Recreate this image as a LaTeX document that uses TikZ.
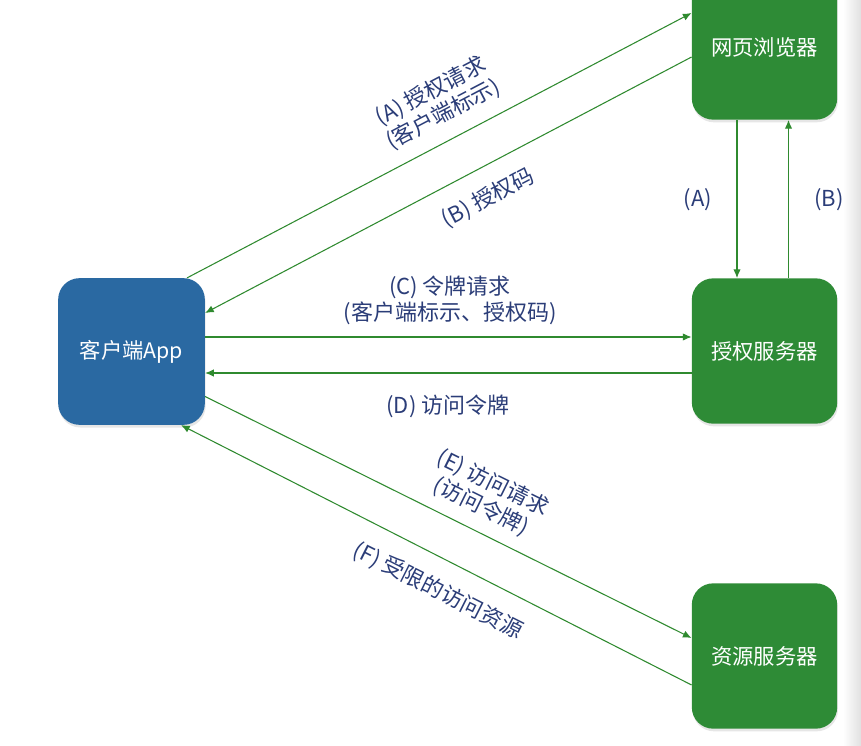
\documentclass[tikz,border=0pt]{standalone}
\usepackage{fontspec}
\setmainfont{Noto Sans CJK SC}
\usetikzlibrary{arrows.meta,calc,shadows}

\definecolor{appblue}{HTML}{2A69A2}
\definecolor{srvgreen}{HTML}{2E8B36}
\definecolor{flowgreen}{HTML}{2F8A2F}
\definecolor{labelblue}{HTML}{2B3D78}

\begin{document}
\begin{tikzpicture}[
    x=0.75pt, y=-0.75pt,
    box/.style={rounded corners=16pt, text=white, align=center, minimum width=109pt, minimum height=109pt,
      font=\fontsize{16pt}{19.5pt}\selectfont, drop shadow={opacity=0.2, shadow xshift=0.6pt, shadow yshift=-2pt}},
    flow/.style={-{Latex[length=6.5pt,width=5.5pt]}, flowgreen, line width=0.8pt},
    lbl/.style={text=labelblue, align=center, font=\fontsize{16.5pt}{19.5pt}\selectfont, inner sep=0pt}
  ]
  \clip (0,0) rectangle (861,746);
  \fill[left color=white, right color=black!12] (843,0) rectangle (861,746);

  % parties
  \node[box, fill=appblue, minimum width=110pt, minimum height=110pt] (client) at (131.5,351.5) {客户端App};
  \node[box, fill=srvgreen] (browser) at (764.5,47) {网页浏览器};
  \node[box, fill=srvgreen] (auth) at (764.5,351) {授权服务器};
  \node[box, fill=srvgreen] (resource) at (764.5,656) {资源服务器};

  % flows
  \draw[flow] ($(client.north)+(55.5,0)$) -- ($(browser.west)+(0,-34)$);
  \draw[flow] ($(browser.west)+(0,10)$) -- ($(client.east)+(0,-38.5)$);
  \draw[flow] ($(browser.south)+(-27.5,0)$) -- ($(auth.north)+(-27.5,0)$);
  \draw[flow] ($(auth.north)+(24,0)$) -- ($(browser.south)+(24,0)$);
  \draw[flow] ($(client.east)+(0,-14.5)$) -- ($(auth.west)+(0,-14)$);
  \draw[flow] ($(auth.west)+(0,22)$) -- ($(client.east)+(0,21.5)$);
  \draw[flow] ($(client.east)+(0,45)$) -- ($(resource.west)+(0,-18)$);
  \draw[flow] ($(resource.west)+(0,29)$) -- ($(client.south)+(49.5,0)$);

  % labels
  \node[lbl, rotate=27.7] (labA) at (437,103) {(A) 授权请求\\(客户端标示)};
  \node[lbl, rotate=27.7] (labB) at (488,198) {(B) 授权码};
  \node[lbl] (labC) at (450,300) {(C) 令牌请求\\(客户端标示、授权码)};
  \node[lbl] (labD) at (448,406) {(D) 访问令牌};
  \node[lbl, rotate=-26.3] (labE) at (487,495) {(E) 访问请求\\(访问令牌)};
  \node[lbl, rotate=-26.7] (labF) at (438,591) {(F) 受限的访问资源};
  \node[lbl] (labVA) at (698,200) {(A)};
  \node[lbl] (labVB) at (829,200) {(B)};
\end{tikzpicture}
\end{document}
